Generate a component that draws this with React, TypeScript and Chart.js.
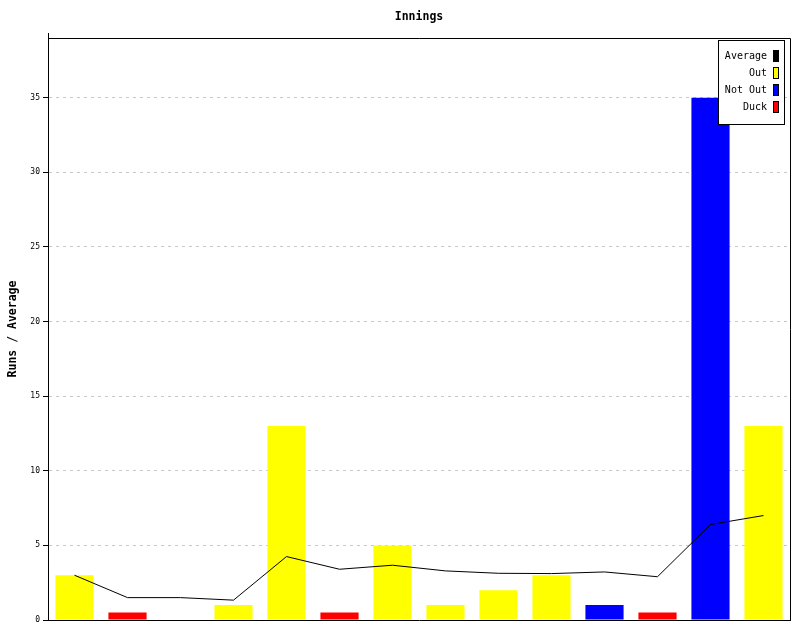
import React, { useEffect, useRef } from "react";
import { Chart, registerables } from "chart.js";

Chart.register(...registerables);

const categories = ["1", "2", "3", "4", "5", "6", "7", "8", "9", "10", "11", "12", "13", "14"];
const outRuns = [3, null, null, 1, 13, null, 5, 1, 2, 3, null, null, null, 13];
const notOutRuns = [null, null, 0, null, null, null, null, null, null, null, 1, null, 35, null];
const duckRuns = [null, 0.5, null, null, null, 0.5, null, null, null, null, null, 0.5, null, null];
const averageRuns = [3, 1.5, 1.5, 1.33, 4.25, 3.4, 3.67, 3.29, 3.13, 3.11, 3.22, 2.9, 6.4, 7.0];
const yTicks = [0, 5, 10, 15, 20, 25, 30, 35];

const MONO = "'DejaVu Sans Mono', monospace";

const framePlugin = {
  id: "frame",
  afterDraw(chart: any) {
    const { ctx, chartArea } = chart;
    const { left, right, top, bottom } = chartArea;
    ctx.save();
    ctx.setLineDash([]);
    ctx.strokeStyle = "#000";
    ctx.lineWidth = 1;
    ctx.beginPath();
    ctx.moveTo(Math.round(left) + 0.5, top - 5);
    ctx.lineTo(Math.round(left) + 0.5, bottom);
    ctx.moveTo(left, Math.round(top) + 0.5);
    ctx.lineTo(Math.round(right) + 0.5, Math.round(top) + 0.5);
    ctx.lineTo(Math.round(right) + 0.5, bottom + 0.5);
    ctx.stroke();

    // title
    ctx.fillStyle = "#000";
    ctx.font = `bold 11.5px ${MONO}`;
    ctx.textAlign = "center";
    ctx.textBaseline = "middle";
    ctx.fillText("Innings", (left + right) / 2, 17);

    // y title
    ctx.save();
    ctx.translate(13, (top + bottom) / 2);
    ctx.rotate(-Math.PI / 2);
    ctx.fillText("Runs / Average", 0, 0);
    ctx.restore();

    // legend
    const order = [3, 0, 1, 2];
    const bx = Math.round(right) - 72;
    const by = Math.round(top) + 2;
    const bw = 66;
    const bh = 84;
    ctx.fillStyle = "#fff";
    ctx.fillRect(bx, by, bw, bh);
    ctx.strokeStyle = "#000";
    ctx.strokeRect(bx + 0.5, by + 0.5, bw, bh);
    ctx.font = `10px ${MONO}`;
    ctx.textAlign = "right";
    order.forEach((di, i) => {
      const ds = chart.data.datasets[di];
      const cy = by + 16 + i * 17;
      ctx.fillStyle = "#000";
      ctx.fillText(ds.label, bx + 49, cy);
      const color = ds.type === "line" ? ds.borderColor : ds.backgroundColor;
      ctx.fillStyle = color;
      ctx.fillRect(bx + 55, cy - 6, 6, 12);
      ctx.strokeStyle = "#000";
      ctx.strokeRect(bx + 55.5, cy - 5.5, 5, 11);
    });
    ctx.restore();
  },
};

export default function App() {
  const ref = useRef<HTMLCanvasElement | null>(null);
  useEffect(() => {
    document.body.style.margin = "0";
    if (!ref.current) return;
    const chart = new Chart(ref.current, {
      type: "bar",
      data: {
        labels: categories,
        datasets: [
          { label: "Out", data: outRuns, backgroundColor: "#ffff00", order: 1 },
          { label: "Not Out", data: notOutRuns, backgroundColor: "#0000ff", order: 1 },
          { label: "Duck", data: duckRuns, backgroundColor: "#ff0000", order: 1 },
          {
            type: "line",
            label: "Average",
            data: averageRuns,
            borderColor: "#000000",
            backgroundColor: "#000000",
            borderWidth: 1,
            pointRadius: 0,
            tension: 0,
            fill: false,
            order: 0,
          } as any,
        ],
      },
      options: {
        responsive: false,
        animation: false,
        maintainAspectRatio: false,
        layout: { padding: { top: 38, right: 10, bottom: 20, left: 0 } },
        datasets: {
          bar: { grouped: false, categoryPercentage: 1, barPercentage: 0.72, borderWidth: 0 },
        } as any,
        plugins: {
          legend: { display: false },
          title: { display: false },
          tooltip: { enabled: false },
        },
        scales: {
          x: {
            offset: true,
            grid: { display: false },
            ticks: { display: false },
            border: { display: true, color: "#000", width: 1 },
            afterFit: (s: any) => {
              s.height = 0;
            },
          },
          y: {
            min: 0,
            max: 39,
            afterBuildTicks: (s: any) => {
              s.ticks = yTicks.map((v) => ({ value: v }));
            },
            ticks: {
              padding: 3,
              color: "#000",
              font: { family: MONO, size: 8 },
            },
            grid: {
              color: "#c8c8c8",
              tickLength: 5,
              tickColor: "#000",
              tickBorderDash: [],
              drawTicks: true,
            } as any,
            border: { display: true, color: "#000", width: 1, dash: [3, 4] } as any,
            afterFit: (s: any) => {
              s.width = 48;
            },
          },
        },
      },
      plugins: [framePlugin],
    });
    return () => chart.destroy();
  }, []);
  return (
    <div style={{ position: "absolute", left: 0, top: 0, width: 800, height: 640, background: "#fff" }}>
      <canvas ref={ref} width={800} height={640} style={{ width: 800, height: 640 }} />
    </div>
  );
}
